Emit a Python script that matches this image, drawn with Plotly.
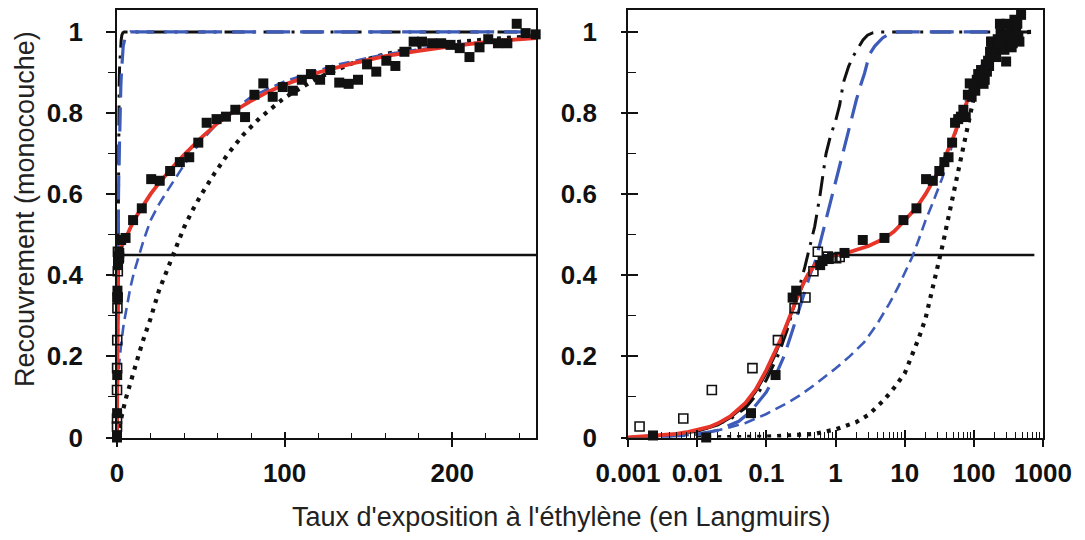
import plotly.graph_objects as go

# ---------------- data ----------------
# Red fit curve
RED_X = [0.001, 0.002, 0.003, 0.005, 0.007, 0.01, 0.015, 0.02, 0.03, 0.05, 0.07, 0.1, 0.13, 0.16,
         0.2, 0.25, 0.3, 0.35, 0.4, 0.5, 0.6, 0.7, 0.85, 1, 1.5, 2, 3, 5, 7, 10, 15, 20, 25, 30,
         35, 40, 50, 60, 70, 80, 90, 100, 120, 140, 160, 180, 200, 225, 250, 300]
RED_Y = [0.0, 0.003, 0.005, 0.009, 0.013, 0.018, 0.026, 0.035, 0.052, 0.085, 0.118, 0.166, 0.205,
         0.24, 0.282, 0.325, 0.358, 0.383, 0.402, 0.425, 0.437, 0.443, 0.447, 0.45, 0.456, 0.462,
         0.472, 0.49, 0.508, 0.535, 0.568, 0.6, 0.627, 0.652, 0.675, 0.697, 0.738, 0.775, 0.805,
         0.83, 0.852, 0.87, 0.9, 0.922, 0.94, 0.953, 0.965, 0.977, 0.985, 0.993]

# Black solid curve (first stage, saturating at 0.45)
BLK_X = [0.001, 0.003, 0.01, 0.02, 0.03, 0.05, 0.07, 0.1, 0.13, 0.16, 0.2, 0.25, 0.3, 0.35, 0.4,
         0.5, 0.6, 0.7, 0.85, 1, 1.3, 1.7, 750]
BLK_Y = [0.0, 0.004, 0.015, 0.031, 0.048, 0.08, 0.112, 0.158, 0.198, 0.234, 0.277, 0.322, 0.356,
         0.382, 0.401, 0.425, 0.437, 0.443, 0.447, 0.449, 0.45, 0.45, 0.45]

# Blue long-dash curve
BLD_X = [0.003, 0.01, 0.02, 0.04, 0.06, 0.08, 0.1, 0.14, 0.18, 0.24, 0.3, 0.36, 0.42, 0.5, 0.6,
         0.7, 0.8, 0.91, 1.05, 1.2, 1.43, 1.78, 2.0, 2.3, 2.63, 3.1, 3.7, 4.8, 6, 8, 300]
BLD_Y = [0.0, 0.008, 0.018, 0.04, 0.065, 0.092, 0.112, 0.158, 0.2, 0.265, 0.315, 0.36, 0.397, 0.43,
         0.48, 0.525, 0.565, 0.6, 0.645, 0.685, 0.738, 0.8, 0.832, 0.868, 0.898, 0.945, 0.965,
         0.985, 0.995, 1.0, 1.0]

# Black dash-dot curve
DD_X = [0.001, 0.003, 0.01, 0.03, 0.05, 0.08, 0.1, 0.15, 0.2, 0.25, 0.3, 0.36, 0.4, 0.45, 0.5,
        0.53, 0.6, 0.73, 0.85, 1, 1.15, 1.3, 1.55, 1.8, 2.1, 2.5, 2.9, 3.5, 4.3, 750]
DD_Y = [0.0, 0.004, 0.015, 0.045, 0.073, 0.115, 0.142, 0.205, 0.265, 0.32, 0.37, 0.42, 0.45, 0.487,
        0.52, 0.545, 0.6, 0.7, 0.745, 0.78, 0.82, 0.875, 0.915, 0.94, 0.96, 0.98, 0.992, 0.998,
        1.0, 1.0]

# Blue short-dash curve
BSD_X = [0.003, 0.01, 0.02, 0.03, 0.05, 0.1, 0.2, 0.3, 0.5, 1, 1.6, 2.6, 4, 6, 8, 10, 13, 16, 20,
         25, 30, 35, 40, 50, 60, 80, 100, 130, 160, 200, 250]
BSD_Y = [0.0, 0.008, 0.018, 0.025, 0.036, 0.058, 0.085, 0.103, 0.13, 0.17, 0.2, 0.235, 0.28, 0.33,
         0.37, 0.405, 0.447, 0.488, 0.535, 0.575, 0.608, 0.64, 0.672, 0.73, 0.775, 0.84, 0.878,
         0.918, 0.945, 0.968, 0.985]

# Black dotted curve
DOT_X = [0.01, 0.1, 0.5, 1, 2, 3, 5, 7, 10, 13, 16, 20, 25, 30, 33, 36, 40, 45, 50, 58, 66, 75,
         85, 100, 120, 140, 160, 180, 200, 225, 250, 300, 400, 750]
DOT_Y = [0.0, 0.002, 0.009, 0.02, 0.038, 0.056, 0.092, 0.122, 0.158, 0.205, 0.245, 0.293, 0.362,
         0.416, 0.448, 0.48, 0.518, 0.56, 0.597, 0.65, 0.698, 0.745, 0.787, 0.838, 0.887, 0.922,
         0.945, 0.962, 0.974, 0.983, 0.99, 0.996, 0.999, 1.0]

# Open squares (low-exposure data)
OPEN_X = [0.00147, 0.0063, 0.0163, 0.063, 0.147, 0.256, 0.368, 0.48, 0.555, 0.775, 0.9, 1.02, 1.15]
OPEN_Y = [0.027, 0.047, 0.117, 0.171, 0.24, 0.319, 0.345, 0.41, 0.458, 0.446, 0.443, 0.442, 0.445]

# Filled squares (measured data)
FILL_X = [0.0023, 0.0135, 0.06, 0.136, 0.24, 0.27, 0.6, 0.65, 0.8, 1.35, 2.48, 5.1, 9.6, 14.8,
          20.4, 25.5, 31.7, 37.5, 43.1, 48.5, 53.5, 59.4, 65, 70.6, 76.4, 82, 87.3, 92.9, 98.9,
          104.9, 110.3, 115.7, 121.2, 127.2, 132.6, 138.2, 143.8, 149.2, 154.7, 160.7, 166.1,
          171.5, 177, 182, 188, 193.4, 199, 204.5, 210.3, 216.3, 221.5, 227.3, 232.9, 238.5,
          243.8, 249.8, 260, 277, 293, 293, 305, 327, 340, 352, 365, 386, 400, 408, 425, 440,
          456, 482]
FILL_Y = [0.005, 0.0, 0.06, 0.154, 0.345, 0.362, 0.425, 0.435, 0.44, 0.455, 0.487, 0.492, 0.536,
          0.565, 0.637, 0.633, 0.657, 0.679, 0.691, 0.727, 0.776, 0.785, 0.791, 0.808, 0.79, 0.845,
          0.873, 0.84, 0.864, 0.855, 0.882, 0.896, 0.882, 0.906, 0.875, 0.872, 0.882, 0.92, 0.902,
          0.929, 0.916, 0.951, 0.976, 0.976, 0.972, 0.972, 0.968, 0.96, 0.938, 0.962, 0.982,
          0.972, 0.972, 1.02, 0.997, 0.994, 0.99, 0.956, 1.02, 0.927, 0.975, 0.988, 1.01, 0.962,
          0.972, 1.03, 1.012, 0.997, 1.02, 0.99, 0.976, 1.042]

# Tick labels
LEFT_X_TICKS = [0, 100, 200]
RIGHT_X_TICKS = [0.001, 0.01, 0.1, 1, 10, 100, 1000]
RIGHT_X_LABELS = ["0.001", "0.01", "0.1", "1", "10", "100", "1000"]
Y_TICKS = [0, 0.2, 0.4, 0.6, 0.8, 1]
Y_LABELS = ["0", "0.2", "0.4", "0.6", "0.8", "1"]

X_TITLE = "Taux d'exposition à l'éthylène (en Langmuirs)"
Y_TITLE = "Recouvrement (monocouche)"

# ---------------- styling ----------------
# the page body has an 8px margin, so the figure is drawn 8px smaller and positions shifted
OFF = 8
W, H = 1085 - OFF, 540 - OFF
FONT = "Liberation Sans"
RED = "#e8352a"
BLUE = "#3d5bb8"
INK = "#111111"
LEFT_MAX = 250


def px_x(p):
    return (p - OFF) / W


def px_y(p):
    return 1 - (p - OFF) / H


fig = go.Figure()


def add_panel(xr, yr, limit=None):
    def keep(xs, ys):
        if limit is None:
            return xs, ys
        pairs = [(a, b) for a, b in zip(xs, ys) if a <= limit]
        return [p[0] for p in pairs], [p[1] for p in pairs]

    common = dict(xaxis=xr, yaxis=yr, showlegend=False, hoverinfo="skip")
    fig.add_trace(go.Scatter(x=BLK_X, y=BLK_Y, mode="lines",
                             line=dict(color=INK, width=2.6), **common))
    fig.add_trace(go.Scatter(x=DOT_X, y=DOT_Y, mode="lines",
                             line=dict(color=INK, width=4.2, dash="4px,6px"), **common))
    fig.add_trace(go.Scatter(x=BSD_X, y=BSD_Y, mode="lines",
                             line=dict(color=BLUE, width=2.6, dash="11px,6px"), **common))
    fig.add_trace(go.Scatter(x=DD_X, y=DD_Y, mode="lines",
                             line=dict(color=INK, width=3, dash="20px,8px,3px,8px"), **common))
    fig.add_trace(go.Scatter(x=BLD_X, y=BLD_Y, mode="lines",
                             line=dict(color=BLUE, width=3.2, dash="24px,10px"), **common))
    fig.add_trace(go.Scatter(x=RED_X, y=RED_Y, mode="lines",
                             line=dict(color=RED, width=3.8), **common))
    ox, oy = keep(OPEN_X, OPEN_Y)
    fig.add_trace(go.Scatter(x=ox, y=oy, mode="markers", cliponaxis=False,
                             marker=dict(symbol="square-open", size=9, color=INK,
                                         line=dict(width=1.6, color=INK)), **common))
    fx, fy = keep(FILL_X, FILL_Y)
    fig.add_trace(go.Scatter(x=fx, y=fy, mode="markers", cliponaxis=False,
                             marker=dict(symbol="square", size=10, color=INK,
                                         line=dict(width=0)), **common))


add_panel("x", "y", LEFT_MAX)
add_panel("x2", "y2")
# empty traces so the overlay tick axes are drawn
fig.add_trace(go.Scatter(x=[], y=[], xaxis="x3", yaxis="y", showlegend=False))
fig.add_trace(go.Scatter(x=[], y=[], xaxis="x4", yaxis="y2", showlegend=False))
fig.add_trace(go.Scatter(x=[], y=[], xaxis="x2", yaxis="y4", showlegend=False))

LX = [px_x(117), px_x(536)]
RX = [px_x(628), px_x(1043)]
YD = [px_y(437.5), px_y(10)]
YR = [0, 1.054]
tickfont = dict(family=FONT, size=26, color=INK, weight="bold")
base = dict(showgrid=False, zeroline=False, showline=True, linecolor=INK, linewidth=1.6,
            tickcolor=INK, tickwidth=1.6, tickfont=tickfont, automargin=False)
plain = dict(showgrid=False, zeroline=False, showline=False, tickcolor=INK, tickwidth=1.6,
             showticklabels=False, automargin=False)

minor_log = [d * 10 ** k for k in range(-3, 3) for d in range(2, 10)]

fig.update_layout(
    template="none",
    width=W, height=H, margin=dict(l=0, r=0, t=0, b=0, autoexpand=False),
    paper_bgcolor="white", plot_bgcolor="white",
    xaxis=dict(domain=LX, range=[0, LEFT_MAX], anchor="y", mirror=True, ticks="outside",
               ticklen=8, tickvals=LEFT_X_TICKS, ticklabelstandoff=3, **base),
    xaxis3=dict(domain=LX, range=[0, LEFT_MAX], anchor="y", overlaying="x", ticks="inside",
                ticklen=6, tickvals=LEFT_X_TICKS,
                minor=dict(ticks="inside", ticklen=5, dtick=20, tick0=0, tickcolor=INK,
                           tickwidth=1.4), **plain),
    yaxis=dict(domain=YD, range=YR, anchor="x", mirror=True, ticks="outside", ticklen=9,
               tickvals=Y_TICKS, ticktext=Y_LABELS, ticklabelstandoff=18,
               minor=dict(ticks="outside", ticklen=7, dtick=0.1, tick0=0, tickcolor=INK,
                          tickwidth=1.4), **base),
    xaxis2=dict(domain=RX, type="log", range=[-3, 3], anchor="y2", mirror=True, ticks="outside",
                ticklen=8, tickvals=RIGHT_X_TICKS, ticktext=RIGHT_X_LABELS,
                ticklabelstandoff=3, **base),
    xaxis4=dict(domain=RX, type="log", range=[-3, 3], anchor="y2", overlaying="x2",
                ticks="inside", ticklen=8, tickvals=RIGHT_X_TICKS,
                minor=dict(ticks="inside", ticklen=6, tickvals=minor_log, tickcolor=INK,
                           tickwidth=1.4), **plain),
    yaxis2=dict(domain=YD, range=YR, anchor="x2", mirror=True, ticks="outside", ticklen=5,
                tickvals=Y_TICKS, ticktext=Y_LABELS, ticklabelstandoff=19, **base),
    yaxis4=dict(domain=YD, range=YR, anchor="x2", overlaying="y2", ticks="inside", ticklen=10,
                tickvals=Y_TICKS,
                minor=dict(ticks="inside", ticklen=8, dtick=0.1, tick0=0, tickcolor=INK,
                           tickwidth=1.4), **plain),
    annotations=[
        dict(text=X_TITLE, x=px_x(561.5), y=px_y(517), xref="paper", yref="paper",
             xanchor="center", yanchor="middle", showarrow=False,
             font=dict(family=FONT, size=27, color="#222222")),
        dict(text=Y_TITLE, x=px_x(25), y=px_y(209), xref="paper", yref="paper",
             xanchor="center", yanchor="middle", showarrow=False, textangle=-90,
             font=dict(family=FONT, size=27, color="#222222")),
    ],
)

fig.write_html("out.html")
